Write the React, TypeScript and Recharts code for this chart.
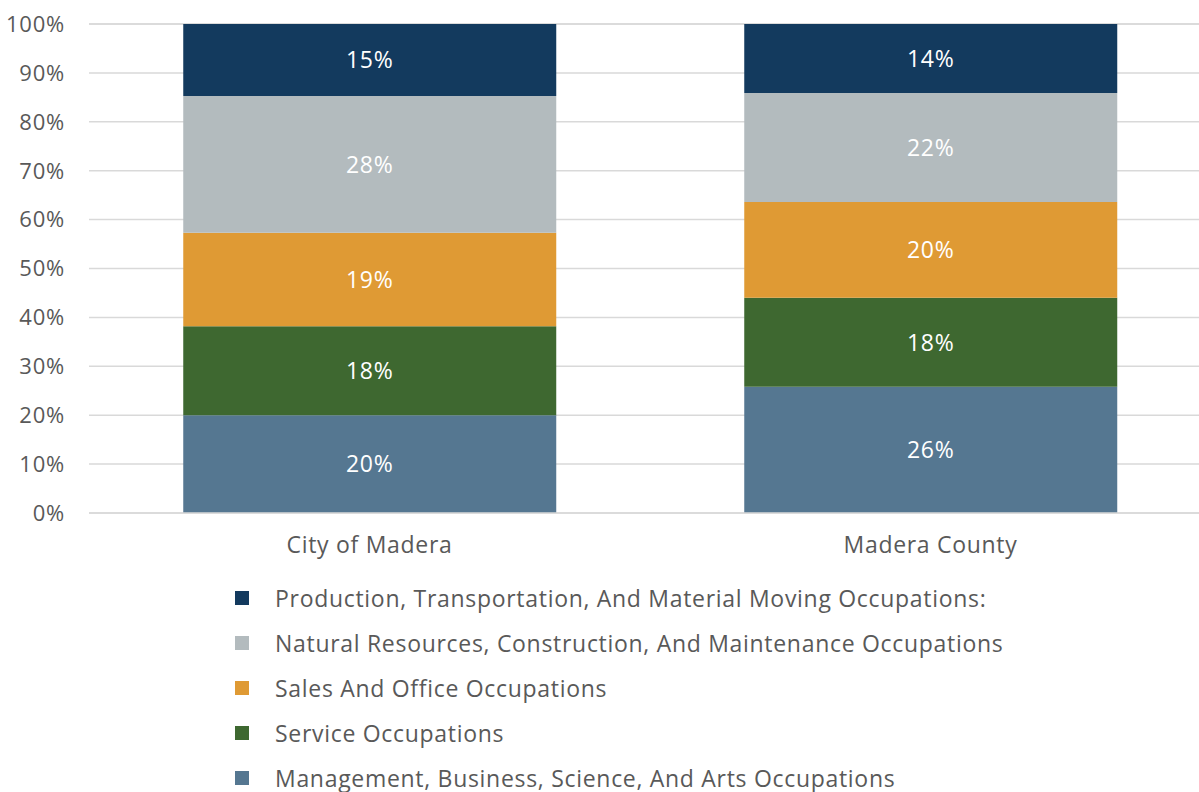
import { BarChart, Bar, XAxis, YAxis, CartesianGrid, Legend, LabelList } from 'recharts';

const places = ['City of Madera', 'Madera County'];
const management = [20.0, 25.8];
const service = [18.2, 18.2];
const sales = [19.1, 19.6];
const natural = [28.0, 22.3];
const production = [14.7, 14.1];
const yTicks = [0, 10, 20, 30, 40, 50, 60, 70, 80, 90, 100];

const series = [
  { key: 'management', name: 'Management, Business, Science, And Arts Occupations', color: '#557791', values: management },
  { key: 'service', name: 'Service Occupations', color: '#3e6830', values: service },
  { key: 'sales', name: 'Sales And Office Occupations', color: '#df9a34', values: sales },
  { key: 'natural', name: 'Natural Resources, Construction, And Maintenance Occupations', color: '#b3bbbe', values: natural },
  { key: 'production', name: 'Production, Transportation, And Material Moving Occupations:', color: '#133a5e', values: production },
];

const data = places.map((place, i) => {
  const row: Record<string, string | number> = { place };
  series.forEach((s) => {
    row[s.key] = s.values[i];
  });
  return row;
});

const font = '"Open Sans", "Liberation Sans", sans-serif';

function LegendList() {
  return (
    <div style={{ paddingLeft: 235 }}>
      {[...series].reverse().map((s) => (
        <div key={s.key} style={{ display: 'flex', alignItems: 'center', height: 45 }}>
          <span style={{ width: 14, height: 14, background: s.color, display: 'inline-block', marginRight: 26 }} />
          <span style={{ fontFamily: font, fontSize: 23, letterSpacing: 0.7, color: '#595959' }}>{s.name}</span>
        </div>
      ))}
    </div>
  );
}

export default function App() {
  return (
    <div style={{ position: 'absolute', left: 0, top: 0, background: '#fff', overflow: 'hidden', width: 1199, height: 792 }}>
      <BarChart width={1199} height={792} data={data} margin={{ top: 24, right: -12, left: 0, bottom: 0 }} barCategoryGap="16.8%">
        <CartesianGrid vertical={false} stroke="#d9d9d9" strokeWidth={1.5} />
        <XAxis
          dataKey="place"
          axisLine={{ stroke: '#d9d9d9', strokeWidth: 1.5 }}
          tickLine={false}
          tickSize={0}
          tickMargin={24}
          height={62}
          tick={{ fill: '#595959', fontSize: 23, fontFamily: font, letterSpacing: 0.7 }}
        />
        <YAxis
          width={89}
          domain={[0, 100]}
          ticks={yTicks}
          interval={0}
          axisLine={false}
          tickLine={false}
          tickSize={0}
          tickMargin={24}
          tickFormatter={(v: number) => `${v}%`}
          tick={{ fill: '#595959', fontSize: 22, fontFamily: font, letterSpacing: 0.8 }}
        />
        <Legend verticalAlign="bottom" align="left" height={217} content={() => <LegendList />} />
        {series.map((s) => (
          <Bar key={s.key} dataKey={s.key} name={s.name} stackId="a" fill={s.color} isAnimationActive={false}>
            <LabelList
              dataKey={s.key}
              position="center"
              formatter={(v: number) => `${Math.round(v)}%`}
              fill="#ffffff"
              style={{ fontSize: 23, fontFamily: font, letterSpacing: 0.8 }}
            />
          </Bar>
        ))}
      </BarChart>
    </div>
  );
}
